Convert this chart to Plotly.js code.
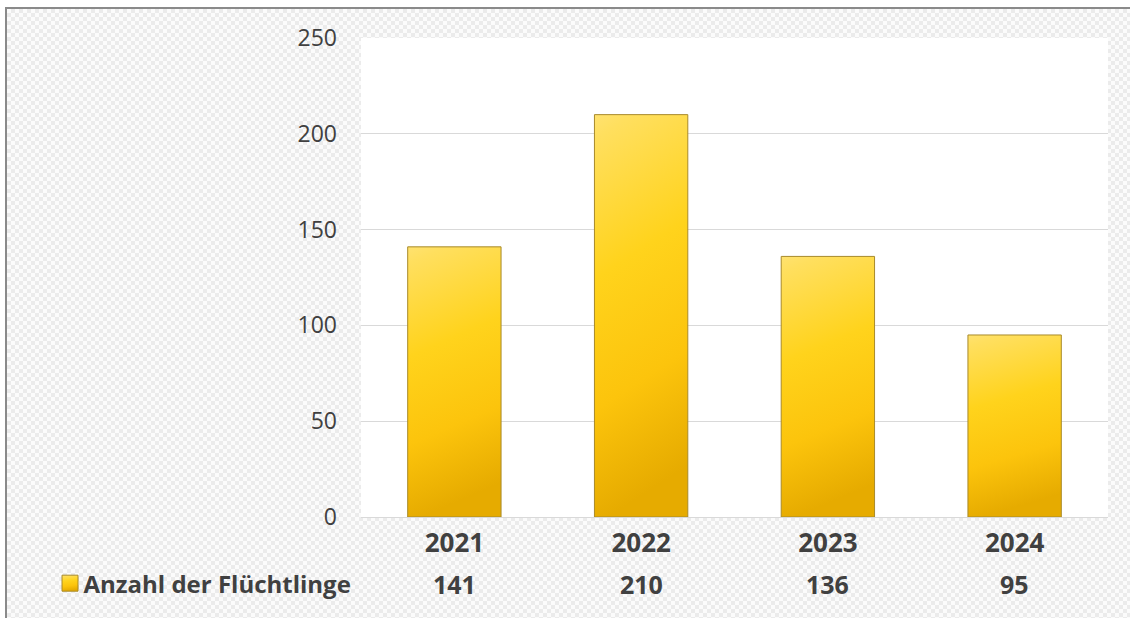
<!DOCTYPE html>
<html>
<head>
<meta charset="utf-8">
<script src="https://cdn.plot.ly/plotly-3.0.1.min.js"></script>
<style>
  html, body { margin:0; padding:0; background:#ffffff; width:1130px; height:618px; overflow:hidden; }
  #frame { position:absolute; left:5px; top:7px; width:1200px; height:700px;
    border:2px solid #8a8a8a; box-sizing:border-box;
    background-color:#f9f9f9;
    background-image: repeating-conic-gradient(#ebebeb 0% 25%, #fbfbfb 0% 50%);
    background-size: 8px 8px; }
  #chart { position:absolute; left:0; top:0; width:1130px; height:618px; }
</style>
</head>
<body>
<div id="frame"></div>
<div id="chart"></div>
<script>
const years = ['2021', '2022', '2023', '2024'];
const refugees = [141, 210, 136, 95];
const seriesName = 'Anzahl der Flüchtlinge';
const yTicks = [0, 50, 100, 150, 200, 250];

const textColor = '#404040';
const fontFam = '"Open Sans", "Noto Sans", sans-serif';

const trace = {
  type: 'bar',
  x: years,
  y: refugees,
  name: seriesName,
  marker: { color: '#ffc91a', line: { color: '#a88a2a', width: 1 } },
  showlegend: true,
  hoverinfo: 'skip'
};

const annotations = years.map((yr, i) => ({
  x: i, xref: 'x', y: -0.139, yref: 'paper',
  text: '<b>' + refugees[i] + '</b>', showarrow: false,
  font: { family: fontFam, size: 25, color: textColor },
  xanchor: 'center', yanchor: 'middle'
}));

const layout = {
  width: 1130, height: 618,
  margin: { l: 361, r: 22, t: 38, b: 94 },
  paper_bgcolor: 'rgba(0,0,0,0)',
  plot_bgcolor: '#ffffff',
  font: { family: fontFam, color: textColor },
  showlegend: true,
  legend: {
    orientation: 'h', x: -0.425, xanchor: 'left', y: -0.139, yanchor: 'middle',
    font: { family: fontFam, size: 24, color: textColor, weight: 'bold' },
    bgcolor: 'rgba(0,0,0,0)'
  },
  xaxis: {
    type: 'category', showgrid: false, zeroline: false,
    showline: true, linecolor: '#d9d9d9', linewidth: 1,
    range: [-0.5, 3.5], automargin: false,
    ticks: '', ticklabelstandoff: 3,
    tickfont: { family: fontFam, size: 26, color: textColor, weight: 'bold' }
  },
  yaxis: {
    range: [0, 250], tickvals: yTicks, ticktext: yTicks.map(String),
    showgrid: true, gridcolor: '#d9d9d9', gridwidth: 1,
    zeroline: false, showline: false, ticks: '', automargin: false,
    ticklabelstandoff: 23,
    tickfont: { family: fontFam, size: 23, color: textColor }
  },
  bargap: 0.5,
  annotations: annotations
};

Plotly.newPlot('chart', [trace], layout, { staticPlot: true, displayModeBar: false }).then(gd => {
  const svg = gd.querySelector('svg.main-svg');
  const ns = 'http://www.w3.org/2000/svg';
  let defs = svg.querySelector('defs');
  if (!defs) { defs = document.createElementNS(ns, 'defs'); svg.insertBefore(defs, svg.firstChild); }
  const grad = document.createElementNS(ns, 'linearGradient');
  grad.setAttribute('id', 'goldGrad');
  grad.setAttribute('x1', '0'); grad.setAttribute('y1', '0');
  grad.setAttribute('x2', '0.15'); grad.setAttribute('y2', '1');
  [['0', '#ffe270'], ['0.06', '#ffdf5e'], ['0.4', '#ffd31c'], ['0.72', '#fcc40c'], ['1', '#e6ab00']].forEach(([o, c]) => {
    const s = document.createElementNS(ns, 'stop');
    s.setAttribute('offset', o); s.setAttribute('stop-color', c);
    grad.appendChild(s);
  });
  defs.appendChild(grad);
  gd.querySelectorAll('.trace.bars .point path').forEach(p => {
    p.style.fill = 'url(#goldGrad)';
  });
  gd.querySelectorAll('.legend .legendpoints path').forEach(p => {
    p.setAttribute('d', 'M8,8H-8V-8H8Z');
    p.style.fill = 'url(#goldGrad)';
    p.style.stroke = '#a88a2a';
    p.style.strokeWidth = '1px';
    const t = p.getAttribute('transform') || '';
    p.setAttribute('transform', t + ' translate(6.5,0)');
  });
});
</script>
</body>
</html>
